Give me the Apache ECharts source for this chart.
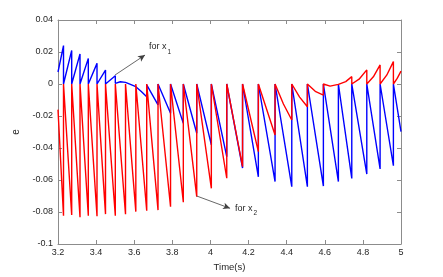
<!DOCTYPE html>
<html>
<head>
<meta charset="utf-8">
<script src="https://cdn.jsdelivr.net/npm/echarts@6/dist/echarts.min.js"></script>
<style>
html,body{margin:0;padding:0;background:#fff;}
#c{width:443px;height:277px;}
</style>
</head>
<body>
<div id="c"></div>
<script>
// x1 (blue) trajectory: time / value pairs
const x1Time = [3.2,3.2289,3.2289,3.2719,3.2719,3.3155,3.3155,3.3591,3.3591,3.4047,3.4047,3.4493,3.4493,3.5008,3.5008,3.527,3.5543,3.58,3.6084,3.6356,3.6656,3.6656,3.7249,3.7249,3.7906,3.7906,3.8577,3.8577,3.9281,3.9281,4.0047,4.0047,4.0856,4.0856,4.1685,4.1685,4.2514,4.2514,4.3391,4.3391,4.4268,4.4268,4.5087,4.5087,4.5927,4.5927,4.6714,4.6714,4.7417,4.7417,4.8205,4.8205,4.8903,4.8903,4.9601,4.9601,5.0];
const x1Value = [0.0075,0.024,0,0.021,0,0.0188,0,0.016,0,0.0129,0,0.0087,0,0.0052,0.0004,0.0014,0.0010,-0.0002,-0.0017,-0.0045,-0.008,-0.0005,-0.013,0,-0.0183,0,-0.0246,0,-0.0308,0,-0.0381,0,-0.0454,0,-0.0525,0,-0.058,0,-0.061,0,-0.0642,0,-0.0642,0,-0.0638,0,-0.061,0,-0.059,0,-0.0563,0,-0.0531,0,-0.0511,0,-0.0298];
// x2 (red) trajectory
const x2Time = [3.2,3.2289,3.2289,3.2719,3.2719,3.3155,3.3155,3.3591,3.3591,3.4047,3.4047,3.4493,3.4493,3.5008,3.5008,3.5543,3.5543,3.6084,3.6084,3.6656,3.6656,3.7249,3.7249,3.7906,3.7906,3.8577,3.8577,3.9281,3.9281,4.0047,4.0047,4.0856,4.0856,4.1685,4.1685,4.2514,4.2514,4.3391,4.3391,4.383,4.4268,4.4268,4.468,4.5087,4.5087,4.55,4.5927,4.5927,4.628,4.6714,4.71,4.7417,4.7417,4.78,4.8205,4.8205,4.855,4.8903,4.8903,4.925,4.9601,4.9601,4.98,5.0];
const x2Value = [-0.016,-0.0823,0,-0.0819,0,-0.0833,0,-0.0823,0,-0.0827,0,-0.0813,0,-0.0823,0,-0.0814,0,-0.0798,0,-0.0792,0,-0.0788,0,-0.0767,0,-0.0739,0,-0.0704,0,-0.0652,0,-0.0589,0,-0.0517,0,-0.0423,0,-0.0319,0,-0.0125,-0.0225,0,-0.0082,-0.0142,0,-0.0046,-0.0069,0,-0.0013,-0.0002,0.0015,0.0046,0,0.003,0.0088,0,0.0045,0.0119,0,0.0055,0.014,0,0.0035,0.008];

// axis ticks
const xTicks = {min: 3.2, max: 5, interval: 0.2};
const yTicks = {min: -0.1, max: 0.04, interval: 0.02};

// annotations (data coordinates)
const annotX1 = {from: [3.4992, 0.0056], to: [3.6567, 0.0181], label: [3.6777, 0.0219], sub: '1'};
const annotX2 = {from: [3.928, -0.070], to: [4.1029, -0.0777], label: [4.129, -0.0788], sub: '2'};

const zip = (t, v) => t.map((x, i) => [x, v[i]]);
const FONT = '"Liberation Sans", Arial, sans-serif';
const axisCol = '#8c8c8c';
const textCol = '#262626';

function annotMark(a) {
  return {
    markLine: {
      silent: true,
      animation: false,
      symbolSize: [5, 7],
      lineStyle: {color: '#404040', width: 0.8, type: 'solid'},
      label: {show: false},
      data: [[{coord: a.from, symbol: 'none'}, {coord: a.to, symbol: 'arrow'}]]
    },
    markPoint: {
      silent: true,
      animation: false,
      symbol: 'circle',
      symbolSize: 0,
      data: [{
        coord: a.label,
        label: {
          show: true,
          position: 'right',
          distance: 0,
          formatter: '{a|for x}{b|' + a.sub + '}',
          rich: {
            a: {fontSize: 9, fontFamily: FONT, color: textCol, lineHeight: 13, verticalAlign: 'top'},
            b: {fontSize: 6.5, fontFamily: FONT, color: textCol, lineHeight: 13, verticalAlign: 'bottom', padding: [0, 0, 0, 1]}
          }
        }
      }]
    }
  };
}

const chart = echarts.init(document.getElementById('c'), null, {renderer: 'canvas'});
const baseX = {
  type: 'value', min: xTicks.min, max: xTicks.max, interval: xTicks.interval,
  axisLine: {show: true, onZero: false, lineStyle: {color: axisCol, width: 1}},
  axisTick: {show: true, inside: true, length: 4, lineStyle: {color: axisCol}},
  splitLine: {show: false}
};
const baseY = {
  type: 'value', min: yTicks.min, max: yTicks.max, interval: yTicks.interval,
  axisLine: {show: true, onZero: false, lineStyle: {color: axisCol, width: 1}},
  axisTick: {show: true, inside: true, length: 4, lineStyle: {color: axisCol}},
  splitLine: {show: false}
};
chart.setOption({
  animation: false,
  backgroundColor: '#ffffff',
  grid: {left: 58, right: 42, top: 20, bottom: 33, containLabel: false},
  xAxis: [
    Object.assign({}, baseX, {
      position: 'bottom',
      name: 'Time(s)', nameLocation: 'middle', nameGap: 17,
      nameTextStyle: {fontFamily: FONT, fontSize: 9.5, color: textCol},
      axisLabel: {fontFamily: FONT, fontSize: 9, color: textCol, margin: 4}
    }),
    Object.assign({}, baseX, {position: 'top', axisLabel: {show: false}})
  ],
  yAxis: [
    Object.assign({}, baseY, {
      position: 'left',
      name: 'e', nameLocation: 'middle', nameGap: 22,
      nameTextStyle: {fontFamily: FONT, fontSize: 10, color: textCol},
      axisLabel: {fontFamily: FONT, fontSize: 9, color: textCol, margin: 5}
    }),
    Object.assign({}, baseY, {position: 'right', axisLabel: {show: false}})
  ],
  series: [
    Object.assign({
      name: 'x1', type: 'line', data: zip(x1Time, x1Value),
      showSymbol: false, symbol: 'none',
      lineStyle: {color: '#0000ff', width: 1.4},
      z: 2
    }, annotMark(annotX1)),
    Object.assign({
      name: 'x2', type: 'line', data: zip(x2Time, x2Value),
      showSymbol: false, symbol: 'none',
      lineStyle: {color: '#ff0000', width: 1.4},
      z: 3
    }, annotMark(annotX2))
  ]
});
</script>
</body>
</html>
